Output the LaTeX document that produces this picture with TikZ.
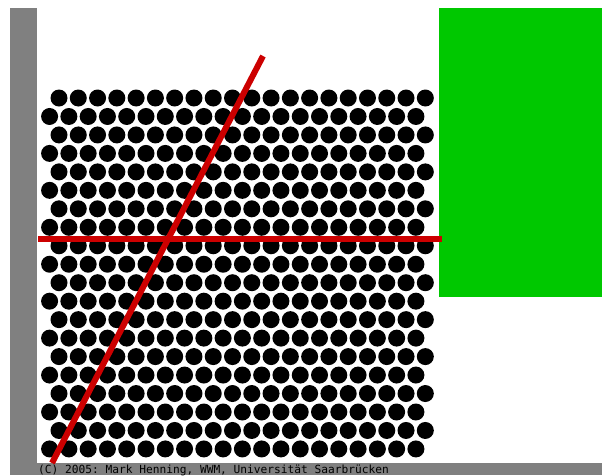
\documentclass[tikz,border=0pt]{standalone}
\usepackage{fontspec}
\setmonofont{DejaVu Sans Mono}
\usepackage{xcolor}
\usepackage{tikz}
\definecolor{packgray}{HTML}{808080}
\definecolor{packgreen}{HTML}{00C800}
\definecolor{packred}{HTML}{CC0000}

\begin{document}
\begin{tikzpicture}[
        x=1pt, y=-1pt,
        frame/.style={fill=packgray},
        disc/.style={fill=black},
        cutline/.style={draw=packred, line width=6pt},
        credit/.style={anchor=base west, inner sep=0pt, font=\ttfamily\fontsize{11.2}{11.2}\selectfont}
    ]
        \useasboundingbox (0,0) rectangle (602,475);
        % frame and green block
        \fill[frame] (10,8) rectangle (37,475);
        \fill[frame] (10,463) rectangle (602,475);
        \fill[packgreen] (439,8) rectangle (602,297);

        % packing of discs
        \foreach \r in {0,...,19} {
            \pgfmathsetmacro{\xs}{mod(\r,2)==0 ? 59 : 49.6}
            \foreach \c in {0,...,19} {
                \fill[disc] ({\xs+\c*19.28},{98+\r*18.47}) circle (8.5);
            }
        }

        % cut lines
        \coordinate (hleft) at (38,239);
        \coordinate (hright) at (442,239);
        \coordinate (dtop) at (263,56);
        \coordinate (dbot) at (52,463);
        \draw[cutline] (hleft) -- (hright);
        \draw[cutline] (dtop) -- (dbot);

        \node[credit] (copy) at (38,473.5) {(C) 2005: Mark Henning, WWM, Universität Saarbrücken};
    \end{tikzpicture}
\end{document}
